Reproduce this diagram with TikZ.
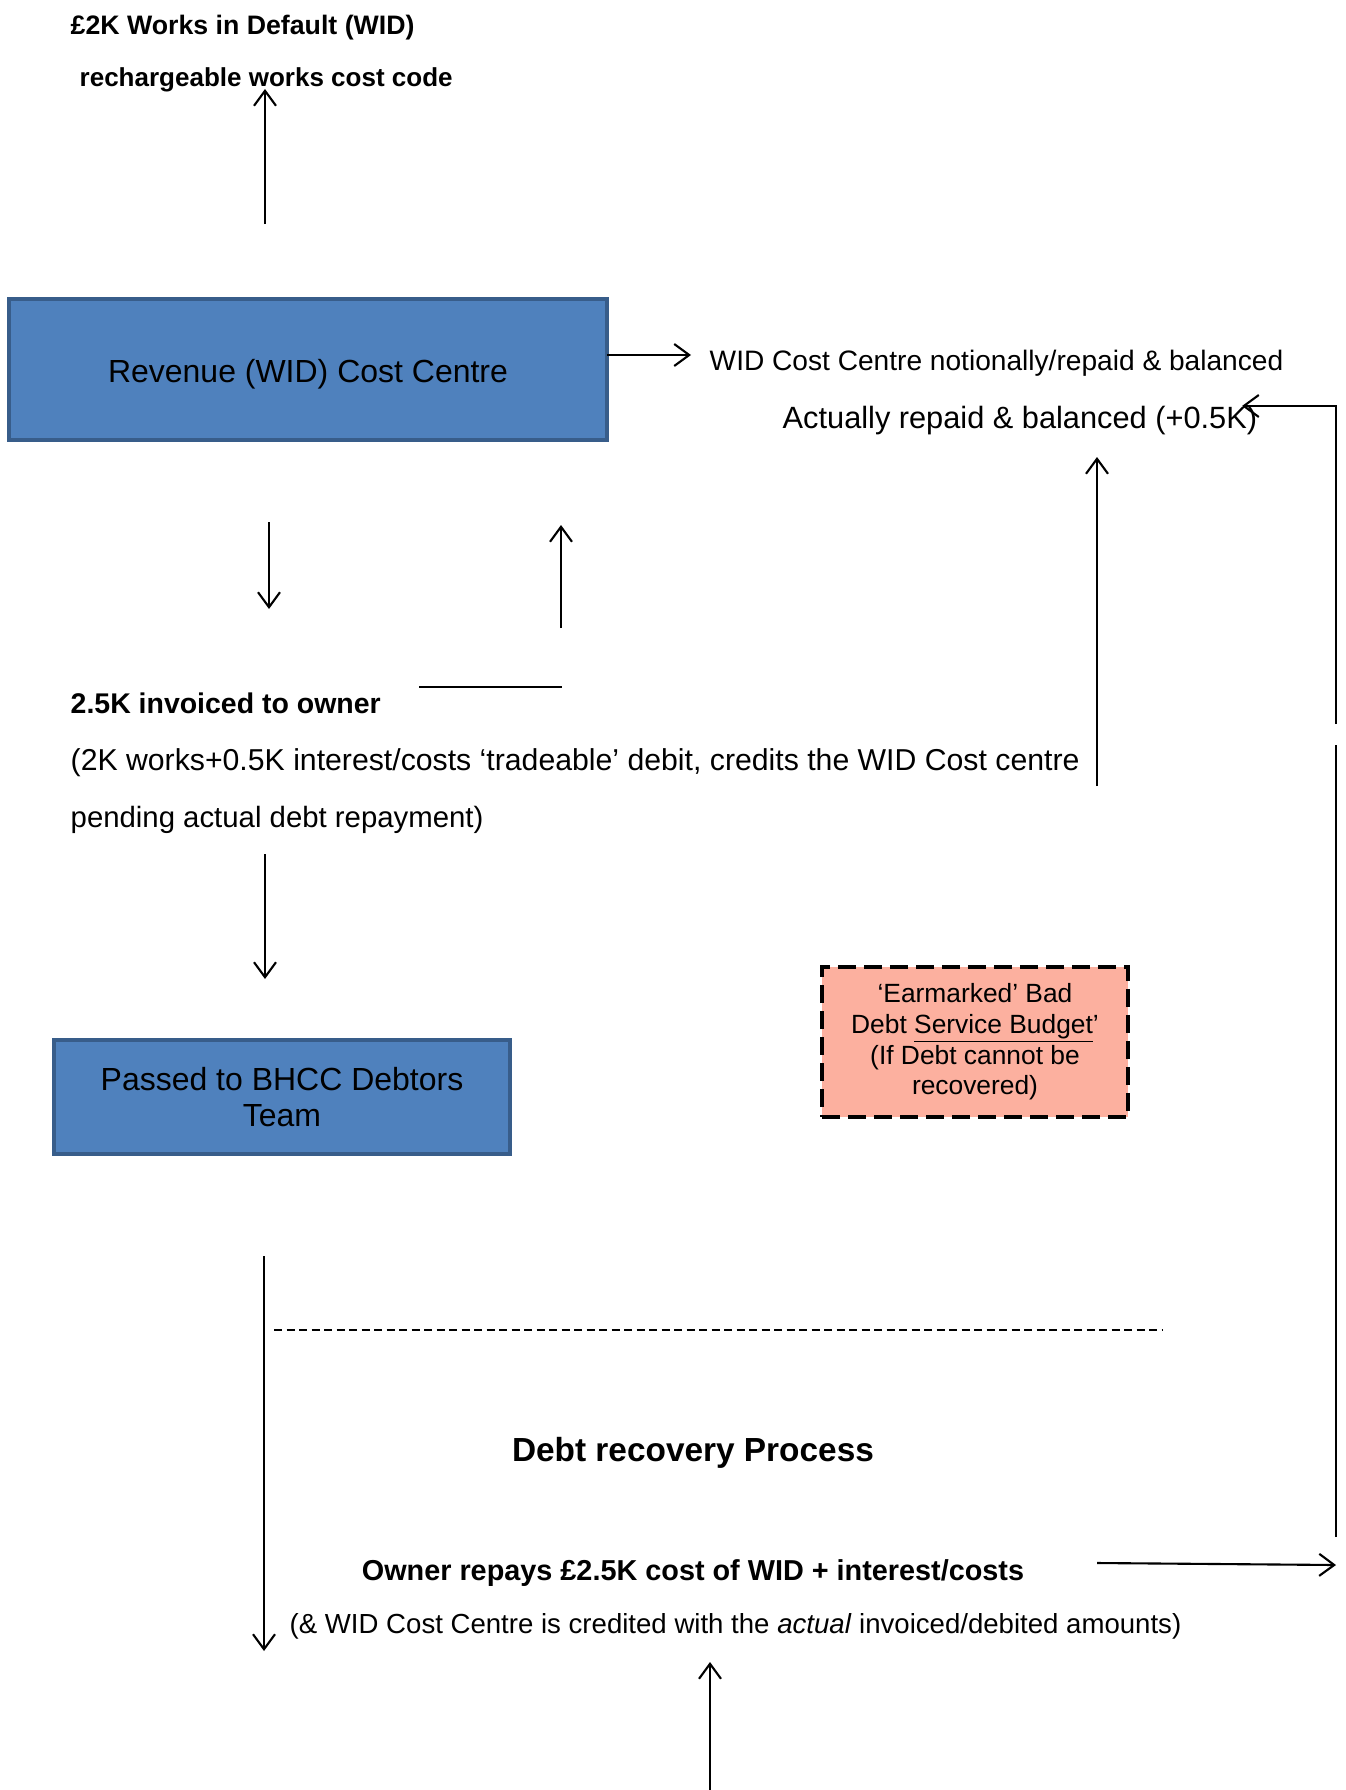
\documentclass[tikz,border=0pt]{standalone}
\usepackage{fontspec}
\setmainfont{Liberation Sans}
\usepackage{tikz}
\usetikzlibrary{arrows.meta,positioning}
\definecolor{WIDBlue}{HTML}{4F81BD}
\definecolor{WIDBlueEdge}{HTML}{385D8A}
\definecolor{WIDSalmon}{HTML}{FCB09F}
\definecolor{WIDBlack}{HTML}{000000}
\tikzset{
    % Base text node
    textnode/.style={
        inner sep=0pt,
        anchor=west,
        text=WIDBlack,
        font=\fontsize{8.2}{9.8}\selectfont
    },
    % Bold text node
    boldtext/.style={
        textnode,
        font=\bfseries\fontsize{8.1}{9.7}\selectfont
    },
    % Blue cost centre box
    bluebox/.style={
        draw=WIDBlueEdge,
        fill=WIDBlue,
        line width=1.1pt,
        align=center,
        inner sep=0pt,
        font=\fontsize{9.1}{10.4}\selectfont
    },
    % Dashed budget box
    budgetbox/.style={
        draw=WIDBlack,
        fill=WIDSalmon,
        line width=1.4pt,
        dash pattern=on 1.8mm off 0.8mm,
        align=center,
        inner sep=0pt,
        font=\fontsize{7.5}{8.7}\selectfont
    },
    % Arrow style
    myarrow/.style={
        -{Straight Barb[length=1.5mm,width=2.2mm]},
        line width=0.6pt,
        draw=WIDBlack
    },
    % Plain line
    plainline/.style={
        line width=0.6pt,
        draw=WIDBlack
    },
    % Dashed separator
    sepline/.style={
        line width=0.5pt,
        draw=WIDBlack,
        dash pattern=on 0.8mm off 0.45mm
    }
}
\begin{document}
\begin{tikzpicture}
    \useasboundingbox (0,0) rectangle (13.45,-17.90);

    % Top labels
    \node[boldtext,font=\bfseries\fontsize{7.6}{9}\selectfont] (wid) at (0.70,-0.28) {£2K Works in Default (WID)};
    \node[boldtext,font=\bfseries\fontsize{7.4}{9}\selectfont] (code) at (0.79,-0.80) {rechargeable works cost code};

    % Revenue cost centre
    \node[bluebox,minimum width=5.98cm,minimum height=1.41cm,text height=7.3pt,text depth=0pt] (rev) at (3.08,-3.695) {Revenue (WID) Cost Centre};
    \node[textnode,font=\fontsize{8.0}{9.4}\selectfont] (notional) at (7.09,-3.63) {WID Cost Centre notionally/repaid \& balanced};
    \node[textnode,font=\fontsize{8.75}{10}\selectfont] (actual) at (7.82,-4.21) {Actually repaid \& balanced (+0.5K)};

    % Invoice
    \node[boldtext] (invoice) at (0.70,-7.03) {2.5K invoiced to owner};
    \node[textnode,font=\fontsize{8.6}{10}\selectfont] (detail) at (0.70,-7.63) {(2K works+0.5K interest/costs ‘tradeable’ debit, credits the WID Cost centre};
    \node[textnode,font=\fontsize{8.35}{10}\selectfont] (pending) at (0.70,-8.20) {pending actual debt repayment)};

    % Debtors and bad debt budget
    \node[bluebox,minimum width=4.56cm,minimum height=1.14cm] (bhcc) at (2.82,-10.97) {Passed to BHCC Debtors\\Team};
    \node[budgetbox,minimum width=3.06cm,minimum height=1.50cm] (budget) at (9.75,-10.42) {‘Earmarked’ Bad\\Debt \smash{\underline{\raisebox{0pt}[\height][0.8pt]{Service Budget}}}’\\(If Debt cannot be\\recovered)};

    % Debt recovery
    \node[boldtext,anchor=center,font=\bfseries\fontsize{9.5}{11}\selectfont] (recovery) at (6.93,-14.53) {Debt recovery Process};
    \node[boldtext,anchor=center,font=\bfseries\fontsize{8.2}{9.8}\selectfont] (repays) at (6.93,-15.73) {Owner repays £2.5K cost of WID + interest/costs};
    \node[textnode,font=\fontsize{7.85}{9.4}\selectfont] (credited) at (2.89,-16.26) {(\& WID Cost Centre is credited with the \textit{actual} invoiced/debited amounts)};

    % Free ends
    \coordinate (a1) at (2.65,-2.24);
    \coordinate (a2) at (2.65,-0.89);
    \coordinate (b1) at (6.07,-3.55);
    \coordinate (b2) at (6.91,-3.55);
    \coordinate (r1) at (13.36,-7.24);
    \coordinate (r2) at (13.36,-4.06);
    \coordinate (r3) at (12.42,-4.06);
    \coordinate (r4) at (13.36,-15.37);
    \coordinate (r5) at (13.36,-7.45);
    \coordinate (o1) at (10.97,-15.63);
    \coordinate (o2) at (13.36,-15.65);
    \coordinate (u1) at (10.97,-7.86);
    \coordinate (u2) at (10.97,-4.57);
    \coordinate (d1) at (2.69,-5.22);
    \coordinate (d2) at (2.69,-6.09);
    \coordinate (e1) at (5.61,-6.28);
    \coordinate (e2) at (5.61,-5.25);
    \coordinate (h1) at (4.19,-6.87);
    \coordinate (h2) at (5.62,-6.87);
    \coordinate (p1) at (2.65,-8.54);
    \coordinate (p2) at (2.65,-9.79);
    \coordinate (q1) at (2.64,-12.56);
    \coordinate (q2) at (2.64,-16.51);
    \coordinate (s1) at (2.74,-13.30);
    \coordinate (s2) at (11.62,-13.30);
    \coordinate (t1) at (7.10,-17.90);
    \coordinate (t2) at (7.10,-16.62);

    % Arrows
    \draw[myarrow] (a1) -- (a2);
    \draw[myarrow] (b1) -- (b2);
    \draw[myarrow] (r1) -- (r2) -- (r3);
    \draw[plainline] (r4) -- (r5);
    \draw[myarrow] (o1) -- (o2);
    \draw[myarrow] (u1) -- (u2);
    \draw[myarrow] (d1) -- (d2);
    \draw[myarrow] (e1) -- (e2);
    \draw[plainline] (h1) -- (h2);
    \draw[myarrow] (p1) -- (p2);
    \draw[myarrow] (q1) -- (q2);
    \draw[sepline] (s1) -- (s2);
    \draw[myarrow] (t1) -- (t2);
\end{tikzpicture}
\end{document}
